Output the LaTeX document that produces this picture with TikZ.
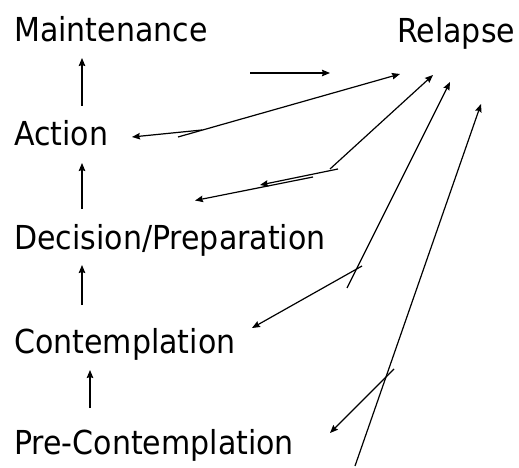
\documentclass[tikz,border=0pt]{standalone}
\usepackage{fontspec}
\newfontfamily\lblfont{DejaVu Sans}[FakeStretch=0.91]
\usetikzlibrary{arrows.meta}
\tikzset{
  px/.style={x=1pt,y=-1pt},
  stage/.style={anchor=base west,inner sep=0pt,font=\lblfont\fontsize{33}{36}\selectfont},
  arr/.style={line width=1.2pt,-{Stealth[length=8pt,width=6.5pt,inset=1pt]}},
}
\begin{document}
\begin{tikzpicture}[px]
\useasboundingbox (0,0) rectangle (519,468);
% stages
\node[stage] (maint) at (14,42) {Maintenance};
\node[stage] (act) at (14,146) {Action};
\node[stage] (dec) at (14,249) {Decision/Preparation};
\node[stage] (cont) at (14,353) {Contemplation};
\node[stage] (pre) at (14,454) {Pre-Contemplation};
\node[stage] (rel) at (397,43) {Relapse};
% coordinates
\coordinate (v1s) at (82,106); \coordinate (v1e) at (82,58);
\coordinate (v2s) at (82,209); \coordinate (v2e) at (82,163);
\coordinate (v3s) at (82,305); \coordinate (v3e) at (82,265);
\coordinate (v4s) at (90,408); \coordinate (v4e) at (90,370);
\coordinate (hs) at (250,73); \coordinate (he) at (330,73);
\coordinate (a1s) at (178,137); \coordinate (a1e) at (400,74);
\coordinate (a2s) at (202,130); \coordinate (a2e) at (132,137);
\coordinate (b1s) at (330,169); \coordinate (b1e) at (433,75);
\coordinate (b2s) at (338,169); \coordinate (b2e) at (260,185);
\coordinate (b3s) at (313,177); \coordinate (b3e) at (195,200.5);
\coordinate (c1s) at (347,288); \coordinate (c1e) at (450,82);
\coordinate (c2s) at (362,266); \coordinate (c2e) at (252,328);
\coordinate (d1s) at (355,466); \coordinate (d1e) at (481,104);
\coordinate (d2s) at (394,369); \coordinate (d2e) at (330,433);
% arrows
\draw[arr] (v1s) -- (v1e);
\draw[arr] (v2s) -- (v2e);
\draw[arr] (v3s) -- (v3e);
\draw[arr] (v4s) -- (v4e);
\draw[arr] (hs) -- (he);
\draw[arr] (a1s) -- (a1e);
\draw[arr] (a2s) -- (a2e);
\draw[arr] (b1s) -- (b1e);
\draw[arr] (b2s) -- (b2e);
\draw[arr] (b3s) -- (b3e);
\draw[arr] (c1s) -- (c1e);
\draw[arr] (c2s) -- (c2e);
\draw[arr] (d1s) -- (d1e);
\draw[arr] (d2s) -- (d2e);
\end{tikzpicture}
\end{document}
